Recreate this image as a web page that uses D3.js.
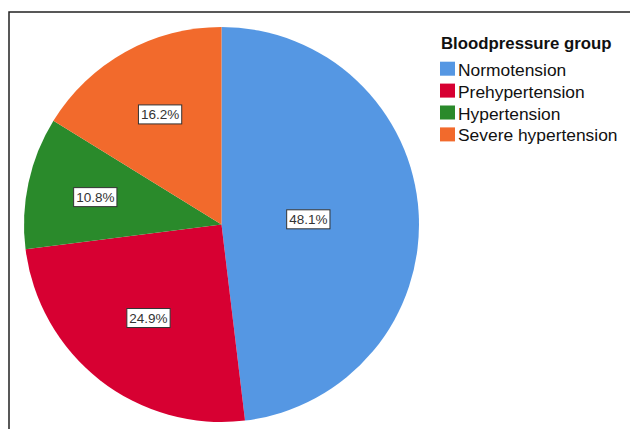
<!DOCTYPE html>
<html><head><meta charset="utf-8">
<script src="https://cdn.jsdelivr.net/npm/d3@7"></script>
<style>body{margin:0;background:#fff}svg{display:block}</style>
</head><body>
<svg id="c" width="630" height="429"></svg>
<script>
const categories = ["Normotension", "Prehypertension", "Hypertension", "Severe hypertension"];
const percents = [48.1, 24.9, 10.8, 16.2];
const colors = ["#5597e3", "#d70032", "#2a8a2b", "#f26a2c"];
const legendTitle = "Bloodpressure group";

const svg = d3.select("#c");
const font = "'Liberation Sans', Arial, sans-serif";

// frame
svg.append("path").attr("d", "M9,432V12H633").attr("fill", "none").attr("stroke", "#222").attr("stroke-width", 1.5);

const cx = 221.5, cy = 224.5, r = 197.5;
const g = svg.append("g").attr("transform", `translate(${cx},${cy})`);
const pie = d3.pie().sort(null).value(d => d);
const arcs = pie(percents);
const arc = d3.arc().innerRadius(0).outerRadius(r);
g.selectAll("path.s").data(arcs).join("path").attr("class", "s")
  .attr("d", arc).attr("fill", (d, i) => colors[i]);

// labels at area centroid of sector
arcs.forEach((d, i) => {
  const a = (d.endAngle - d.startAngle) / 2;
  const lr = (2 / 3) * r * Math.sin(a) / a;
  const [x, y] = d3.arc().innerRadius(lr).outerRadius(lr).centroid(d);
  const lg = g.append("g").attr("transform", `translate(${x},${y})`);
  const rect = lg.append("rect");
  const t = lg.append("text").text(d3.format(".1f")(percents[i]) + "%")
    .attr("text-anchor", "middle").attr("dy", "0.37em")
    .attr("font-family", font).attr("font-size", 13.5).attr("fill", "#333");
  const w = t.node().getComputedTextLength() + 5, h = 19;
  rect.attr("x", -w / 2).attr("y", -h / 2).attr("width", w).attr("height", h)
    .attr("fill", "#fff").attr("stroke", "#333").attr("stroke-width", 1);
});

// legend
svg.append("text").attr("x", 441).attr("y", 48.5).text(legendTitle)
  .attr("font-family", font).attr("font-weight", "bold").attr("font-size", 16.8).attr("fill", "#111");
const leg = svg.append("g");
categories.forEach((c, i) => {
  const by = 75.7 + i * 21.9;
  leg.append("rect").attr("x", 440).attr("y", by - 14).attr("width", 15).attr("height", 14).attr("fill", colors[i]);
  leg.append("text").attr("x", 458).attr("y", by).text(c)
    .attr("font-family", font).attr("font-size", 17.4).attr("fill", "#111");
});
</script>
</body></html>
